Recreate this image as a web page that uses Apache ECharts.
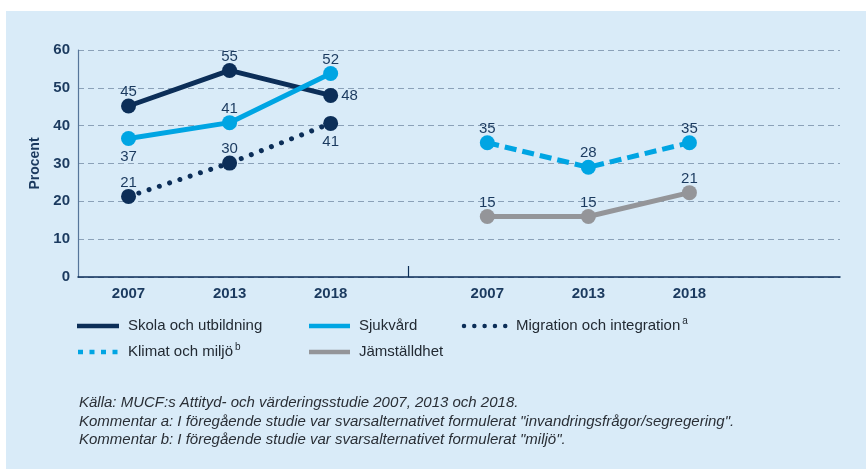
<!DOCTYPE html>
<html>
<head>
<meta charset="utf-8">
<script src="https://cdn.jsdelivr.net/npm/echarts@6/dist/echarts.min.js"></script>
<style>
  html, body { margin: 0; padding: 0; background: #fff; }
  #chart { width: 866px; height: 469px; }
</style>
</head>
<body>
<div id="chart"></div>
<script>
// two panels on one value axis: slot positions for each year group
const years = ["2007", "2013", "2018"];
const leftX = [0.5, 1.5, 2.5];
const rightX = [4.05, 5.05, 6.05];
const dividerX = 3.27;

const skola = [45.2, 54.6, 48.0];
const skolaLabels = ["45", "55", "48"];
const sjukvard = [36.6, 40.8, 53.8];
const sjukvardLabels = ["37", "41", "52"];
const migration = [21.3, 30.1, 40.6];
const migrationLabels = ["21", "30", "41"];
const klimat = [35.5, 29.0, 35.5];
const klimatLabels = ["35", "28", "35"];
const jamstalldhet = [16.0, 16.0, 22.3];
const jamLabels = ["15", "15", "21"];

const yTicks = [0, 10, 20, 30, 40, 50, 60];

const navy = "#0c2e58";
const cyan = "#00a5e3";
const grey = "#949599";
const textNavy = "#1b3a5f";
const sans = "'Liberation Sans', Arial, sans-serif";

const xLabelMap = {};
leftX.concat(rightX).forEach((x, i) => {
  xLabelMap[x.toFixed(2)] = years[i % 3];
});

function lineSeries(name, xs, ys, labels, color, lineType, positions) {
  return {
    name: name,
    type: "line",
    data: xs.map((x, i) => ({
      value: [x, ys[i]],
      label: {
        position: positions[i],
        distance: positions[i] == "top" ? -1 : 3
      }
    })),
    symbol: "circle",
    symbolSize: 15,
    itemStyle: { color: color },
    lineStyle: {
      color: color,
      width: 5,
      type: lineType || "solid",
      cap: lineType && lineType[0] < 1 ? "round" : "butt"
    },
    label: {
      show: true,
      fontSize: 15,
      color: textNavy,
      fontFamily: sans,
      formatter: (p) => labels[p.dataIndex]
    },
    emphasis: { disabled: true },
    z: 3
  };
}

const series = [
  lineSeries("Skola och utbildning", leftX, skola, skolaLabels, navy, null, ["top", "top", "right"]),
  lineSeries("Sjukvård", leftX, sjukvard, sjukvardLabels, cyan, null, ["bottom", "top", "top"]),
  lineSeries("Migration och integration", leftX, migration, migrationLabels, navy, [0.01, 10.8], ["top", "top", "bottom"]),
  lineSeries("Klimat och miljö", rightX, klimat, klimatLabels, cyan, [12, 6], ["top", "top", "top"]),
  lineSeries("Jämställdhet", rightX, jamstalldhet, jamLabels, grey, null, ["top", "top", "top"])
];

// legend drawn by hand so the dotted / dashed keys look like the original
function legendItem(x1, x2, tx, y, color, dash, cap, label, sup) {
  return {
    type: "group",
    children: [
      {
        type: "line",
        shape: { x1: x1, y1: y, x2: x2, y2: y },
        style: { stroke: color, lineWidth: 4.5, lineDash: dash || null, lineCap: cap || "butt" }
      },
      {
        type: "text",
        x: tx,
        y: y,
        style: {
          text: sup ? label + "{sup|" + sup + "}" : label,
          fontFamily: sans,
          fontSize: 15,
          fill: "#222a33",
          verticalAlign: "middle",
          rich: { sup: { fontSize: 10, padding: [0, 0, 9, 2], fontFamily: sans, fill: "#222a33" } }
        }
      }
    ]
  };
}

const footer = [
  "Källa: MUCF:s Attityd- och värderingsstudie 2007, 2013 och 2018.",
  "Kommentar a: I föregående studie var svarsalternativet formulerat \"invandringsfrågor/segregering\".",
  "Kommentar b: I föregående studie var svarsalternativet formulerat \"miljö\"."
];

const myChart = echarts.init(document.getElementById("chart"), null, { renderer: "canvas" });

const option = {
  animation: false,
  backgroundColor: "#ffffff",
  grid: { left: 78, right: 26, top: 50, bottom: 192 },
  xAxis: {
    type: "value",
    min: 0,
    max: 7.54,
    splitLine: { show: false },
    axisLine: { show: true, lineStyle: { color: navy, width: 1.5 } },
    axisTick: {
      show: true,
      customValues: [dividerX],
      inside: true,
      length: 11,
      lineStyle: { color: navy, width: 1.2 }
    },
    axisLabel: {
      customValues: leftX.concat(rightX),
      formatter: (v) => xLabelMap[v.toFixed(2)] || "",
      fontSize: 15,
      fontWeight: "bold",
      color: textNavy,
      margin: 9,
      fontFamily: sans
    }
  },
  yAxis: {
    type: "value",
    min: yTicks[0],
    max: yTicks[yTicks.length - 1],
    interval: 10,
    name: "Procent",
    nameLocation: "middle",
    nameGap: 34,
    nameTextStyle: {
      fontSize: 14,
      fontWeight: "bold",
      color: textNavy,
      fontFamily: sans
    },
    axisLine: { show: true, lineStyle: { color: "#56759a", width: 1.2 } },
    axisTick: { show: false },
    axisLabel: {
      fontSize: 15,
      fontWeight: "bold",
      color: textNavy,
      margin: 8,
      fontFamily: sans
    },
    splitLine: {
      show: true,
      lineStyle: { color: "#8ba1b8", width: 1.2, type: [6, 4] }
    }
  },
  graphic: [
    {
      type: "rect",
      z: -10,
      shape: { x: 6, y: 11, width: 860, height: 458 },
      style: { fill: "#d9ebf8" }
    },
    legendItem(77, 119, 128, 326, navy, null, null, "Skola och utbildning"),
    legendItem(309, 350, 359, 326, cyan, null, null, "Sjukvård"),
    legendItem(464, 506, 516, 326, navy, [0.01, 10.3], "round", "Migration och integration", "a"),
    legendItem(78, 119, 128, 352, cyan, [5, 6.5], "butt", "Klimat och miljö", "b"),
    legendItem(309, 350, 359, 352, grey, null, null, "Jämställdhet"),
    {
      type: "text",
      x: 79,
      y: 394,
      style: {
        text: footer.join("\n"),
        fontFamily: sans,
        fontStyle: "italic",
        fontSize: 15,
        lineHeight: 18.5,
        verticalAlign: "top",
        fill: "#2a2f36"
      }
    }
  ],
  series: series
};

if (option && typeof option === "object") {
  myChart.setOption(option);
}
</script>
</body>
</html>
